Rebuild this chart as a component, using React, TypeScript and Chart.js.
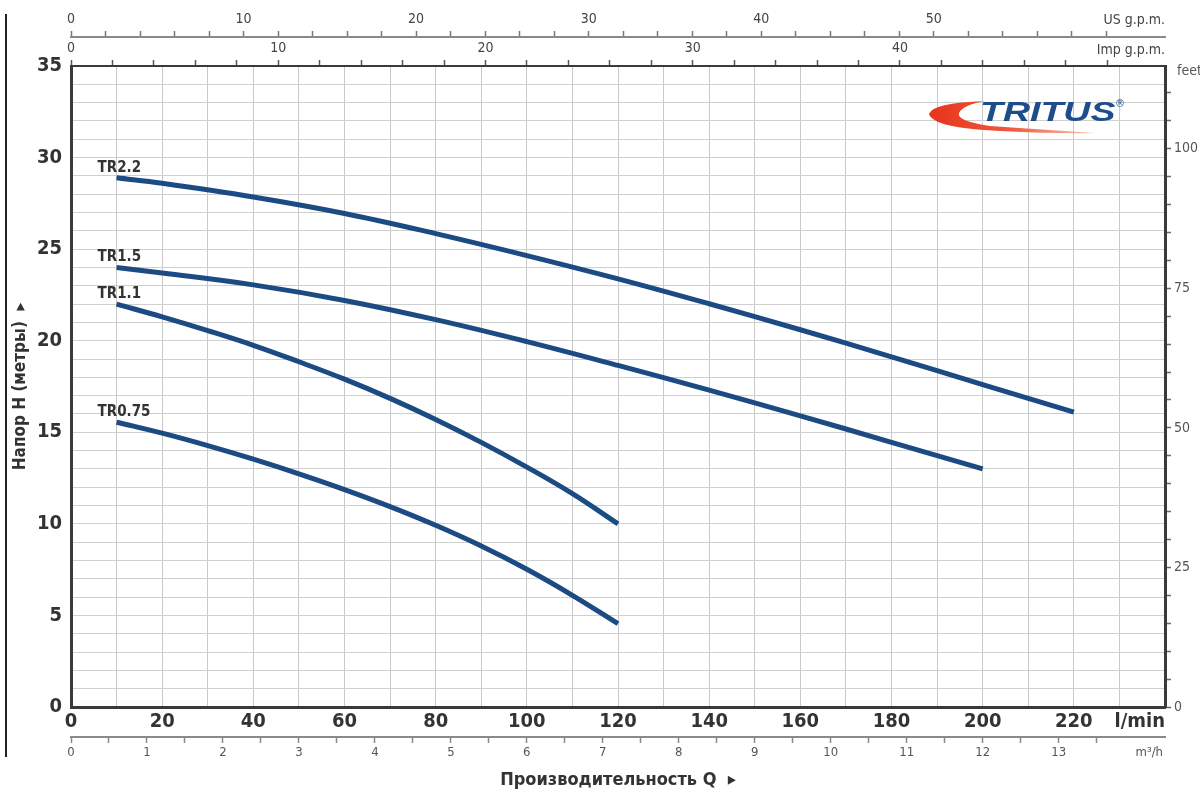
import React, { useEffect, useRef } from 'react';
import { Chart, registerables } from 'chart.js';
Chart.register(...registerables);

const FONT = "'Liberation Sans Narrow', 'Arial Narrow', 'DejaVu Sans Condensed', 'Liberation Sans', sans-serif";

// ---- data (flow Q in l/min, head H in metres) ----
const SERIES_NAMES = ['TR2.2', 'TR1.5', 'TR1.1', 'TR0.75'];
const Q_TR22 = [10, 20, 40, 60, 80, 100, 120, 140, 160, 180, 200, 220];
const H_TR22 = [28.9, 28.6, 27.85, 26.95, 25.85, 24.65, 23.38, 22.02, 20.6, 19.12, 17.6, 16.1];
const Q_TR15 = [10, 20, 40, 60, 80, 100, 120, 140, 160, 180, 200];
const H_TR15 = [24.0, 23.7, 23.05, 22.2, 21.15, 19.95, 18.65, 17.3, 15.9, 14.45, 13.0];
const Q_TR11 = [10, 20, 30, 40, 50, 60, 70, 80, 90, 100, 110, 120];
const H_TR11 = [22.0, 21.3, 20.55, 19.75, 18.85, 17.9, 16.85, 15.7, 14.45, 13.1, 11.65, 10.0];
const Q_TR075 = [10, 20, 30, 40, 50, 60, 70, 80, 90, 100, 110, 120];
const H_TR075 = [15.55, 14.95, 14.27, 13.53, 12.73, 11.87, 10.94, 9.92, 8.79, 7.52, 6.1, 4.55];

// ---- axes ----
const Q_MAX = 240;
const H_MAX = 35;
const LMIN_LABELS = [0, 20, 40, 60, 80, 100, 120, 140, 160, 180, 200, 220];
const M3H_LABELS = [0, 1, 2, 3, 4, 5, 6, 7, 8, 9, 10, 11, 12, 13];
const IMP_LABELS = [0, 10, 20, 30, 40];
const US_LABELS = [0, 10, 20, 30, 40, 50];
const FEET_LABELS = [0, 25, 50, 75, 100];
const H_LABELS = [0, 5, 10, 15, 20, 25, 30, 35];

const L_PER_US_GAL = 3.78541;
const L_PER_IMP_GAL = 4.54609;
const LMIN_PER_M3H = 1000 / 60;
const FT_PER_M = 3.28084;

const CURVE_COLOR = '#1c4b84';

const has = (arr: number[], v: number) => arr.some((a) => Math.abs(a - v) < 1e-6);
const keepSteps = (step: number) => (scale: any) => {
  scale.ticks = scale.ticks.filter((t: any) => Math.abs(t.value / step - Math.round(t.value / step)) < 1e-6);
};

const extras = {
  id: 'extras',
  afterDraw(chart: any) {
    const { ctx, chartArea } = chart;
    const xs = chart.scales.x;
    const ys = chart.scales.y;
    ctx.save();
    // curve labels
    ctx.font = `bold 15px ${FONT}`;
    ctx.fillStyle = '#333';
    ctx.textAlign = 'left';
    ctx.textBaseline = 'alphabetic';
    chart.data.datasets.forEach((ds: any) => {
      const p = ds.data[0];
      ctx.fillText(ds.label, xs.getPixelForValue(p.x) - 19, ys.getPixelForValue(p.y) - 6);
    });
    // unit labels
    ctx.fillStyle = '#444';
    ctx.font = `14px ${FONT}`;
    ctx.textAlign = 'right';
    ctx.textBaseline = 'middle';
    ctx.fillText('US g.p.m.', chartArea.right, 20);
    ctx.fillText('Imp g.p.m.', chartArea.right, 50);
    ctx.font = `13px ${FONT}`;
    ctx.fillStyle = '#555';
    ctx.fillText('m³/h', chartArea.right - 2, 753);
    ctx.font = `bold 20px ${FONT}`;
    ctx.fillStyle = '#333';
    ctx.fillText('l/min', chartArea.right, 722);
    ctx.font = `14px ${FONT}`;
    ctx.fillStyle = '#555';
    ctx.textAlign = 'left';
    ctx.fillText('feet', chartArea.right + 12, 71);
    // frame line at left
    ctx.strokeStyle = '#222';
    ctx.lineWidth = 2;
    ctx.beginPath();
    ctx.moveTo(6, 14);
    ctx.lineTo(6, 757);
    ctx.stroke();
    // logo swoosh
    const g = ctx.createLinearGradient(928, 0, 1095, 0);
    g.addColorStop(0, '#e8331b');
    g.addColorStop(0.5, '#ee5a3c');
    g.addColorStop(1, 'rgba(245,150,120,0.6)');
    ctx.fillStyle = g;
    ctx.beginPath();
    ctx.moveTo(985, 101);
    ctx.quadraticCurveTo(932, 103, 929, 114);
    ctx.quadraticCurveTo(933, 128, 1000, 131);
    ctx.quadraticCurveTo(1060, 134, 1095, 133);
    ctx.quadraticCurveTo(1050, 130, 990, 126);
    ctx.quadraticCurveTo(956, 121, 959, 113);
    ctx.quadraticCurveTo(963, 105, 985, 101);
    ctx.closePath();
    ctx.fill();
    // logo text
    ctx.save();
    ctx.translate(980, 121);
    ctx.scale(1.34, 1);
    ctx.fillStyle = '#1e4d8c';
    ctx.font = `italic bold 28px 'Liberation Sans', sans-serif`;
    ctx.textAlign = 'left';
    ctx.textBaseline = 'alphabetic';
    ctx.fillText('TRITUS', 0, 0);
    ctx.restore();
    ctx.fillStyle = '#1e4d8c';
    ctx.font = `10px 'DejaVu Sans', sans-serif`;
    ctx.textAlign = 'left';
    ctx.textBaseline = 'middle';
    ctx.fillText('®', 1115, 104);
    ctx.restore();
  },
};

function series(label: string, q: number[], h: number[]) {
  return {
    label,
    data: q.map((x, i) => ({ x, y: h[i] })),
    borderColor: CURVE_COLOR,
    borderWidth: 5,
    pointRadius: 0,
    fill: false,
    tension: 0.4,
    cubicInterpolationMode: 'default' as const,
    borderCapStyle: 'butt' as const,
  };
}

export default function App() {
  const ref = useRef<HTMLCanvasElement | null>(null);
  useEffect(() => {
    if (!ref.current) return;
    const chart = new Chart(ref.current, {
      type: 'line',
      data: {
        datasets: [
          series(SERIES_NAMES[0], Q_TR22, H_TR22),
          series(SERIES_NAMES[1], Q_TR15, H_TR15),
          series(SERIES_NAMES[2], Q_TR11, H_TR11),
          series(SERIES_NAMES[3], Q_TR075, H_TR075),
        ],
      },
      options: {
        responsive: false,
        animation: false,
        devicePixelRatio: 1,
        layout: { padding: 0 },
        plugins: { legend: { display: false }, tooltip: { enabled: false } },
        scales: {
          x: {
            type: 'linear',
            position: 'bottom',
            weight: 0,
            min: 0,
            max: Q_MAX,
            afterBuildTicks: keepSteps(10),
            afterFit: (s: any) => { s.height = 30; },
            ticks: {
              stepSize: 10,
              autoSkip: false,
              maxRotation: 0,
              minRotation: 0,
              padding: 3,
              color: '#333',
              font: { family: FONT, size: 20, weight: 'bold' },
              callback: (v: any) => (has(LMIN_LABELS, Number(v)) ? String(v) : ''),
            },
            grid: { color: '#c9c9c9', lineWidth: 1, drawTicks: false },
            border: { display: true, color: '#3a3a3a', width: 3 },
          },
          xm: {
            type: 'linear',
            position: 'bottom',
            weight: 1,
            min: 0,
            max: Q_MAX / LMIN_PER_M3H,
            afterBuildTicks: keepSteps(0.5),
            afterFit: (s: any) => { s.height = 63; },
            ticks: {
              stepSize: 0.5,
              autoSkip: false,
              maxRotation: 0,
              minRotation: 0,
              padding: 2,
              color: '#555',
              font: { family: FONT, size: 13 },
              callback: (v: any) => (has(M3H_LABELS, Number(v)) ? String(v) : ''),
            },
            grid: { drawOnChartArea: false, drawTicks: true, tickLength: 6, tickColor: '#888', tickWidth: 1.5 },
            border: { display: true, color: '#8a8a8a', width: 2 },
            title: {
              display: true,
              text: 'Производительность Q  ▸',
              color: '#333',
              font: { family: FONT, size: 18, weight: 'bold' },
              padding: { top: 0, bottom: 9 },
            },
          },
          ximp: {
            type: 'linear',
            position: 'top',
            weight: 0,
            min: 0,
            max: Q_MAX / L_PER_IMP_GAL,
            afterBuildTicks: keepSteps(2),
            afterFit: (s: any) => { s.height = 29; },
            ticks: {
              stepSize: 2,
              autoSkip: false,
              maxRotation: 0,
              minRotation: 0,
              padding: 3,
              color: '#444',
              font: { family: FONT, size: 14 },
              callback: (v: any) => (has(IMP_LABELS, Number(v)) ? String(v) : ''),
            },
            grid: { drawOnChartArea: false, drawTicks: true, tickLength: 6, tickColor: '#555', tickWidth: 1.5 },
            border: { display: true, color: '#3a3a3a', width: 2 },
          },
          xus: {
            type: 'linear',
            position: 'top',
            weight: 1,
            min: 0,
            max: Q_MAX / L_PER_US_GAL,
            afterBuildTicks: keepSteps(2),
            afterFit: (s: any) => { s.height = 37; },
            ticks: {
              stepSize: 2,
              autoSkip: false,
              maxRotation: 0,
              minRotation: 0,
              padding: 3,
              color: '#444',
              font: { family: FONT, size: 14 },
              callback: (v: any) => (has(US_LABELS, Number(v)) ? String(v) : ''),
            },
            grid: { drawOnChartArea: false, drawTicks: true, tickLength: 6, tickColor: '#777', tickWidth: 1.5 },
            border: { display: true, color: '#8a8a8a', width: 2 },
          },
          y: {
            type: 'linear',
            position: 'left',
            min: 0,
            max: H_MAX,
            afterBuildTicks: keepSteps(1),
            afterFit: (s: any) => { s.width = 71; },
            ticks: {
              stepSize: 1,
              autoSkip: false,
              padding: 9,
              color: '#333',
              font: { family: FONT, size: 20, weight: 'bold' },
              callback: (v: any) => (has(H_LABELS, Number(v)) ? String(v) : ''),
            },
            grid: { color: '#cfcfcf', lineWidth: 1, drawTicks: false },
            border: { display: true, color: '#3a3a3a', width: 3 },
            title: {
              display: true,
              text: 'Напор H (метры)  ▸',
              color: '#333',
              font: { family: FONT, size: 17, weight: 'bold' },
              padding: { top: 10, bottom: 0 },
            },
          },
          yft: {
            type: 'linear',
            position: 'right',
            min: 0,
            max: H_MAX * FT_PER_M,
            afterBuildTicks: keepSteps(5),
            afterFit: (s: any) => { s.width = 35; },
            ticks: {
              stepSize: 5,
              autoSkip: false,
              padding: 3,
              color: '#555',
              font: { family: FONT, size: 14 },
              callback: (v: any) => (has(FEET_LABELS, Number(v)) ? String(v) : ''),
            },
            grid: { drawOnChartArea: false, drawTicks: true, tickLength: 6, tickColor: '#666', tickWidth: 1.5 },
            border: { display: true, color: '#3a3a3a', width: 3 },
          },
        },
      } as any,
      plugins: [extras],
    });
    return () => chart.destroy();
  }, []);
  return (
    <div style={{ position: 'fixed', left: 0, top: 0, width: 1200, height: 800, background: '#fff' }}>
      <canvas ref={ref} width={1200} height={800} style={{ display: 'block' }} />
    </div>
  );
}
